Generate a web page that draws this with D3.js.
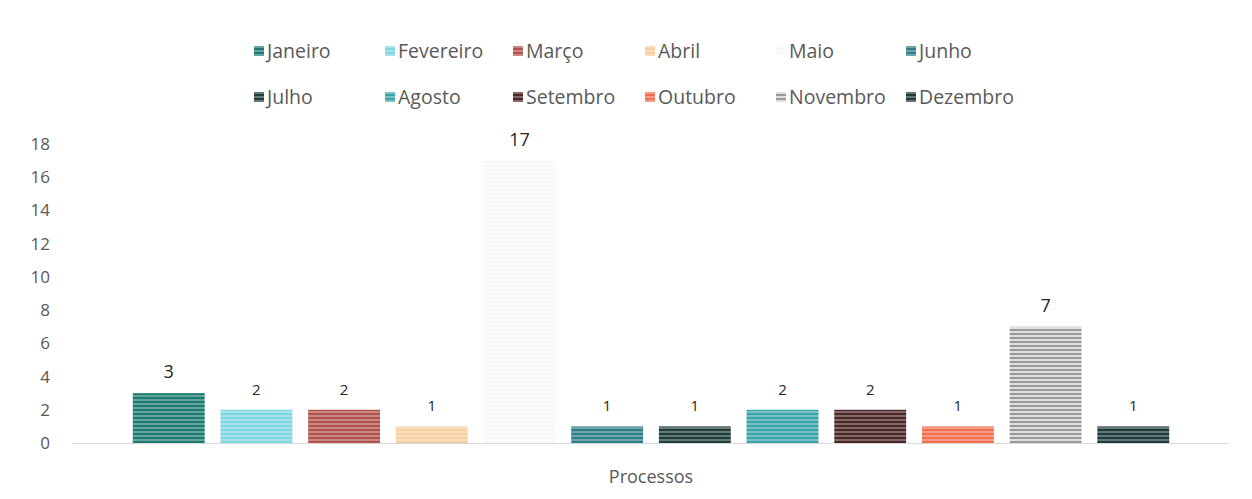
<!DOCTYPE html>
<html><head><meta charset="utf-8">
<script src="https://cdn.jsdelivr.net/npm/d3@7"></script>
<style>body{margin:0;background:#fff}svg{display:block}text{font-family:"Open Sans",Lato,sans-serif}</style>
</head><body><svg id="c" width="1252" height="499"></svg>
<script>
const category = ["Processos"];
const months = ["Janeiro","Fevereiro","Março","Abril","Maio","Junho","Julho","Agosto","Setembro","Outubro","Novembro","Dezembro"];
const values = [3,2,2,1,17,1,1,2,2,1,7,1];
const yTicks = [0,2,4,6,8,10,12,14,16,18];
const colors = ["#1d7b72","#7fd7e0","#b0524a","#f6cf9f","#f7f7f7","#2d7e87","#1f3d3b","#3aa5a9","#4a2626","#f26f4e","#9a9a9a","#1e3a3b"];

const svg = d3.select("#c");
const m = {l:73, r:1229, t:144, b:443};
const y = d3.scaleLinear().domain([0,18]).range([m.b, m.t]);
const x0 = d3.scaleBand().domain(category).range([m.l, m.r]).paddingInner(0).paddingOuter(0.0493);
const x1 = d3.scaleBand().domain(months).range([0, x0.bandwidth()]).paddingInner(0.18).paddingOuter(0.09);

const defs = svg.append("defs");
months.forEach((mo,i)=>{
  const p = defs.append("pattern").attr("id","p"+i).attr("patternUnits","userSpaceOnUse")
    .attr("width",8).attr("height",4);
  const light = (i===10 || i===4) ? "#ffffff" : d3.interpolateRgb(colors[i],"#ffffff")(0.45);
  p.append("rect").attr("width",8).attr("height",4).attr("fill",light);
  p.append("rect").attr("width",8).attr("height",2.6).attr("y",0.7).attr("fill",colors[i]);
});

// y axis labels
const ya = svg.append("g").attr("transform",`translate(${m.l-23},0)`)
  .call(d3.axisLeft(y).tickValues(yTicks).tickSize(0).tickPadding(0));
ya.select(".domain").remove();
ya.selectAll("text").attr("font-size",17).attr("fill","#595959").attr("text-anchor","end");

// baseline
svg.append("line").attr("x1",m.l).attr("x2",m.r).attr("y1",y(0)+0.5).attr("y2",y(0)+0.5)
  .attr("stroke","#d9d9d9").attr("stroke-width",1);

const g = svg.append("g").selectAll("g").data(category).join("g")
  .attr("transform",d=>`translate(${x0(d)},0)`);
g.selectAll("rect").data(months.map((mo,i)=>({mo,i,v:values[i]}))).join("rect")
  .attr("x",d=>x1(d.mo)).attr("width",x1.bandwidth())
  .attr("y",d=>y(d.v)).attr("height",d=>y(0)-y(d.v))
  .attr("fill",d=>`url(#p${d.i})`);
g.selectAll("text.lbl").data(months.map((mo,i)=>({mo,i,v:values[i]}))).join("text")
  .attr("class","lbl")
  .attr("x",d=>x1(d.mo)+x1.bandwidth()/2).attr("y",d=>y(d.v)-15)
  .attr("text-anchor","middle").attr("font-size",d=>d.v>2?18:15).attr("fill","#262626")
  .text(d=>d.v);

// x axis label
svg.append("text").attr("x",x0("Processos")+x0.bandwidth()/2).attr("y",483)
  .attr("text-anchor","middle").attr("font-size",18).attr("fill","#595959").text(category[0]);

// legend
const lx = [254,385,513,645,776,906];
const ly = [51,97];
const lg = svg.append("g").selectAll("g").data(months).join("g")
  .attr("transform",(d,i)=>`translate(${lx[i%6]},${ly[Math.floor(i/6)]})`);
lg.append("rect").attr("x",0).attr("y",-5).attr("width",10).attr("height",10).attr("fill",(d,i)=>`url(#p${i})`);
lg.append("text").attr("x",13).attr("y",7).attr("font-size",19.5).attr("fill","#595959").text(d=>d);
</script></body></html>
